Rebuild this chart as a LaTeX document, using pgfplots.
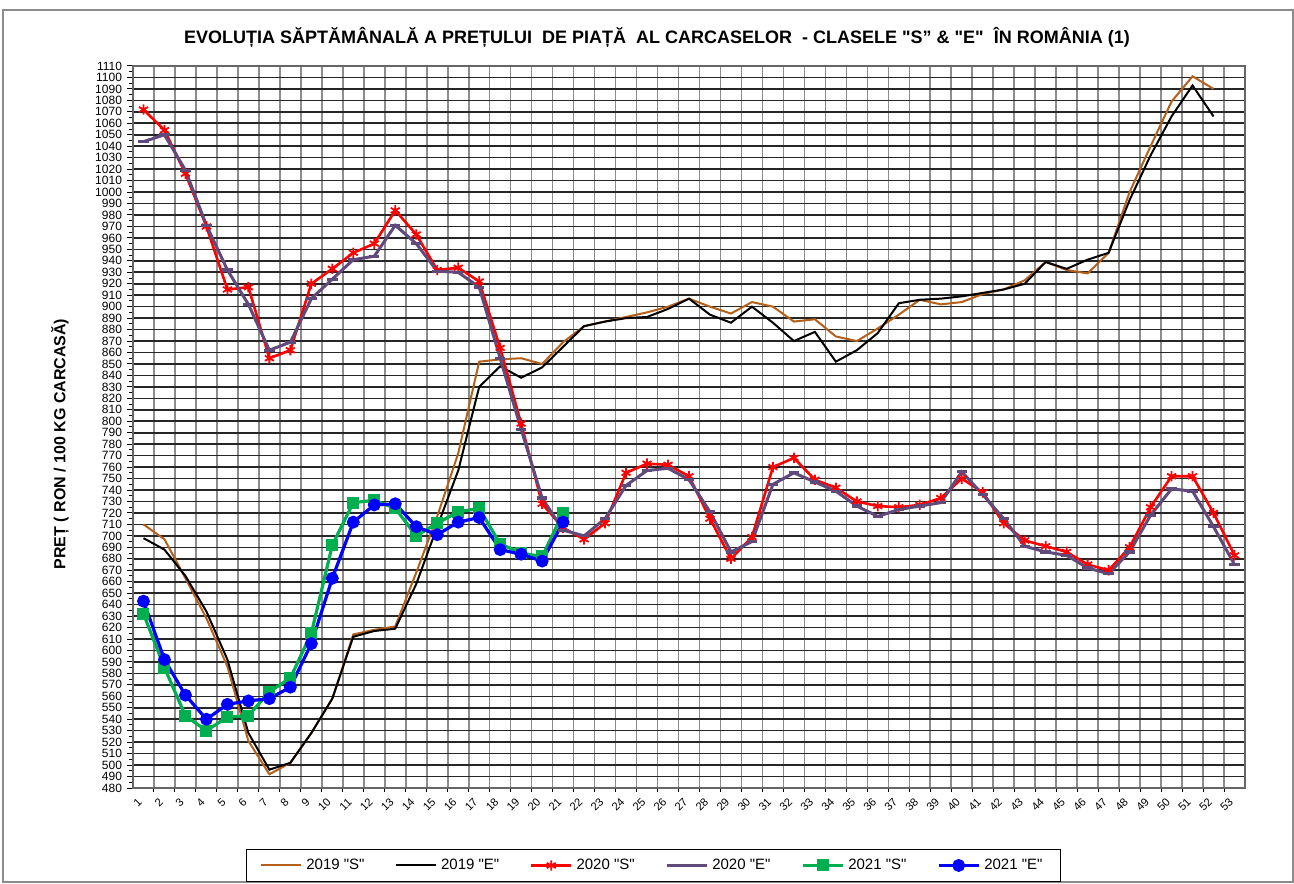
\documentclass[border=0pt]{standalone}
\usepackage{fontspec}
\setmainfont{Liberation Sans}[Ligatures=TeXOff]
\usepackage{pgfplots}
\pgfplotsset{compat=1.18}
\usepackage{pgfplotstable}

\definecolor{c19s}{RGB}{180,96,26}
\definecolor{c20e}{RGB}{96,74,123}
\definecolor{c21s}{RGB}{0,176,80}
\definecolor{c21e}{RGB}{0,0,255}

\pgfplotstableread{
w s19 e19
1 710 698
2 697 688
3 663 665
4 628 634
5 586 592
6 521 528
7 492 496
8 502 502
9 528 528
10 558 558
11 614 612
12 618 617
13 621 619
14 668 658
15 717 708
16 772 757
17 852 830
18 854 848
19 855 838
20 850 847
21 869 865
22 883 883
23 887 887
24 891 890
25 895 891
26 900 898
27 907 907
28 900 893
29 894 886
30 904 900
31 900 886
32 887 870
33 889 878
34 874 852
35 870 862
36 881 877
37 893 903
38 906 906
39 902 907
40 904 909
41 911 912
42 915 915
43 923 920
44 939 939
45 932 933
46 929 941
47 947 947
48 1000 993
49 1040 1032
50 1079 1066
51 1101 1093
52 1090 1066
}\tabA

\pgfplotstableread{
w s20 e20
1 1072 1044
2 1054 1050
3 1016 1019
4 970 971
5 915 932
6 917 902
7 855 862
8 862 869
9 920 907
10 933 924
11 947 941
12 955 944
13 984 971
14 963 955
15 932 931
16 934 930
17 922 917
18 864 855
19 798 793
20 728 733
21 707 705
22 697 700
23 711 715
24 755 744
25 763 757
26 762 759
27 752 749
28 715 721
29 680 686
30 699 695
31 760 745
32 768 755
33 749 747
34 742 739
35 730 726
36 726 717
37 725 723
38 727 726
39 733 729
40 750 756
41 738 736
42 711 715
43 696 691
44 691 686
45 686 683
46 675 672
47 670 667
48 690 686
49 725 718
50 752 741
51 752 739
52 720 708
53 683 675
}\tabB

\pgfplotstableread{
w s21 e21
1 632 643
2 585 592
3 543 561
4 530 540
5 542 553
6 543 556
7 564 558
8 576 568
9 615 606
10 692 663
11 729 712
12 731 727
13 724 728
14 700 708
15 711 701
16 721 712
17 724 716
18 693 688
19 685 684
20 682 678
21 720 712
}\tabC

\begin{document}
\begin{tikzpicture}
\path[use as bounding box] (0,0) rectangle (647pt,441.5pt);
\draw[black!45, line width=0.6pt] (1.5pt,0.5pt) rectangle (646.5pt,436.5pt);
\node[font=\bfseries\fontsize{9}{11}\selectfont] at (328.5pt,423pt)
  {EVOLUȚIA SĂPTĂMÂNALĂ A PREȚULUI\ \ DE PIAȚĂ\ \ AL CARCASELOR\ \ - CLASELE "S” \& "E"\ \ ÎN ROMÂNIA (1)};
\node[font=\bfseries\fontsize{8}{10}\selectfont, rotate=90] at (30pt,219.5pt)
  {PREȚ ( RON / 100 KG CARCASĂ)};
\begin{axis}[
  at={(66.5pt,47.5pt)}, anchor=south west,
  width=556pt, height=361pt, scale only axis,
  xmin=0.5, xmax=53.5, ymin=480, ymax=1110,
  xtick={1,...,53},
  minor x tick num=1,
  xminorgrids=true,
  ytick={480,490,...,1110},
  minor y tick num=1,
  ymajorgrids=true,
  xtick pos=bottom, ytick pos=left,
  major grid style={black!85, line width=0.8pt},
  minor grid style={black!45, line width=0.8pt},
  axis line style={black!60, line width=0.8pt},
  tick align=outside,
  major tick length=3pt, minor tick length=1.8pt,
  major x tick style={draw=none},
  tick style={black, line width=0.5pt},
  /pgf/number format/assume math mode=true,
  /pgf/number format/1000 sep={},
  y tick label style={font=\fontsize{6}{6}\selectfont, xshift=1pt},
  x tick label style={font=\fontsize{5.6}{6}\selectfont, rotate=45, anchor=east, yshift=-1pt},
  clip=false,
  legend columns=6,
  legend style={at={(0.468,-0.1073)}, anchor=center, draw=black, line width=0.6pt,
    font=\fontsize{7.5}{8}\selectfont, inner xsep=7pt, inner ysep=2.5pt,
    /tikz/every even column/.append style={column sep=13.3pt}},
  legend cell align=left,
  legend image code/.code={\draw[mark repeat=2,mark phase=2] plot coordinates {(0pt,0pt) (10pt,0pt) (20pt,0pt)};},
]
\addplot[c19s, line width=1pt, no markers] table[x=w,y=s19]{\tabA};
\addlegendentry{2019 "S"}
\addplot[black, line width=1pt, no markers] table[x=w,y=e19]{\tabA};
\addlegendentry{2019 "E"}
\addplot[red, line width=1.3pt, mark=asterisk, mark size=2.6pt, mark options={line width=0.9pt}] table[x=w,y=s20]{\tabB};
\addlegendentry{2020 "S"}
\addplot[c20e, line width=1.5pt, mark=-, mark size=2.6pt, mark options={line width=1.6pt}] table[x=w,y=e20]{\tabB};
\addlegendentry{2020 "E"}
\addplot[c21s, line width=1.6pt, mark=square*, mark size=2.2pt] table[x=w,y=s21]{\tabC};
\addlegendentry{2021 "S"}
\addplot[c21e, line width=1.6pt, mark=*, mark size=2.4pt] table[x=w,y=e21]{\tabC};
\addlegendentry{2021 "E"}
\end{axis}
\end{tikzpicture}
\end{document}
